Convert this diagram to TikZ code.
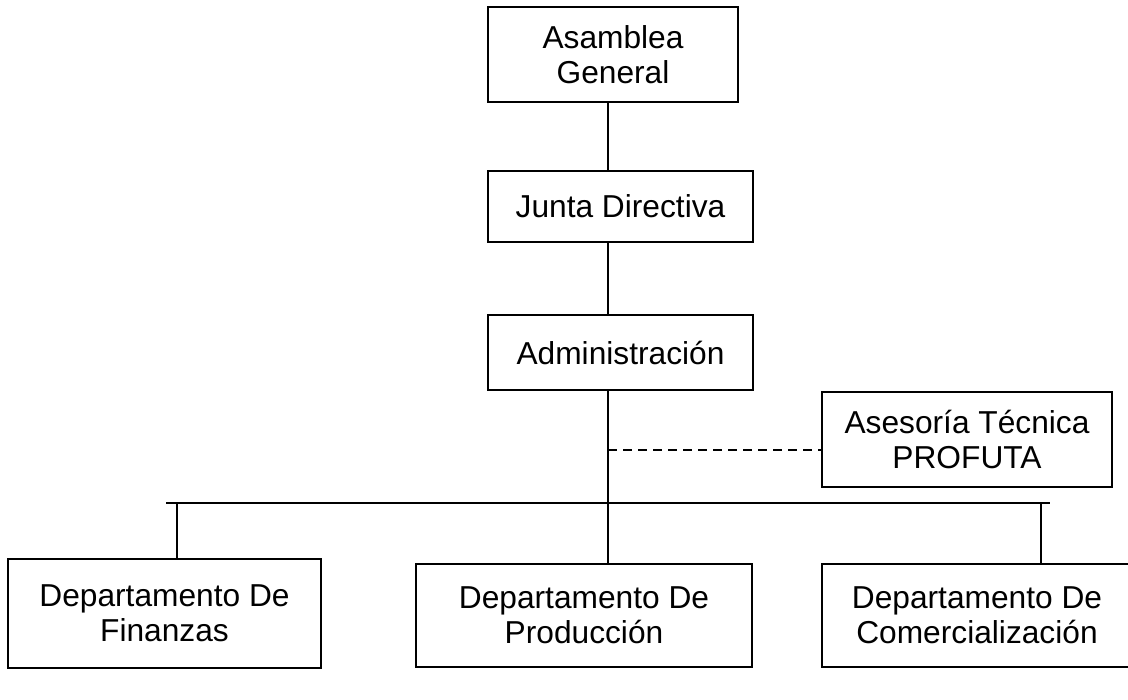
\documentclass[tikz,border=0pt]{standalone}
\usepackage{fontspec}
\setmainfont{Liberation Sans}
\usetikzlibrary{positioning}
\newcommand{\orgfont}{\fontsize{31.7pt}{35pt}\selectfont}
\tikzset{
  unidad/.style={
    draw,
    line width=1.5pt,
    align=center,
    inner sep=0pt,
    font=\orgfont
  },
  enlace/.style={line width=1.3pt},
  asesoria/.style={line width=1.3pt, dash pattern=on 9pt off 6pt}
}

\begin{document}
\begin{tikzpicture}[x=1pt,y=-1pt]
        \useasboundingbox (0,0) rectangle (1128,700);
        \node [unidad, minimum width=250pt, minimum height=95pt] (Asamblea) at (613,54.5) {Asamblea\\General};
        \node [unidad, on grid, below right=152pt and 7.5pt of Asamblea, minimum width=265pt, minimum height=71pt] (Junta) {Junta Directiva};
        \node [unidad, on grid, below=146pt of Junta, minimum width=265pt, minimum height=75pt] (Admin) {Administración};
        \node [unidad, on grid, below right=87pt and 346.5pt of Admin, minimum width=290pt, minimum height=95pt] (Asesoria) {Asesoría Técnica\\PROFUTA};
        \node [unidad, on grid, below left=263pt and 36.5pt of Admin, minimum width=336pt, minimum height=103pt] (Produccion) {Departamento De\\Producción};
        \node [unidad, on grid, above left=2pt and 419.5pt of Produccion, minimum width=313pt, minimum height=109pt] (Finanzas) {Departamento De\\Finanzas};
        \node [unidad, on grid, right=393pt of Produccion, minimum width=310pt, minimum height=103pt] (Comercial) {Departamento De\\Comercialización};
        \coordinate (tronco) at (608,450);
        \coordinate (busL) at (166,503);
        \coordinate (busR) at (1050,503);
        \coordinate (tapFin) at (177,503);
        \coordinate (tapCom) at (1041,503);
        \draw [enlace] (Asamblea.south -| tronco) to (Junta.north -| tronco);
        \draw [enlace] (Junta.south -| tronco) to (Admin.north -| tronco);
        \draw [enlace] (Admin.south -| tronco) to (Produccion.north -| tronco);
        \draw [asesoria] (tronco) to (Asesoria.west |- tronco);
        \draw [enlace] (busL) to (busR);
        \draw [enlace] (tapFin) to (tapFin |- Finanzas.north);
        \draw [enlace] (tapCom) to (tapCom |- Comercial.north);
      \end{tikzpicture}
\end{document}
